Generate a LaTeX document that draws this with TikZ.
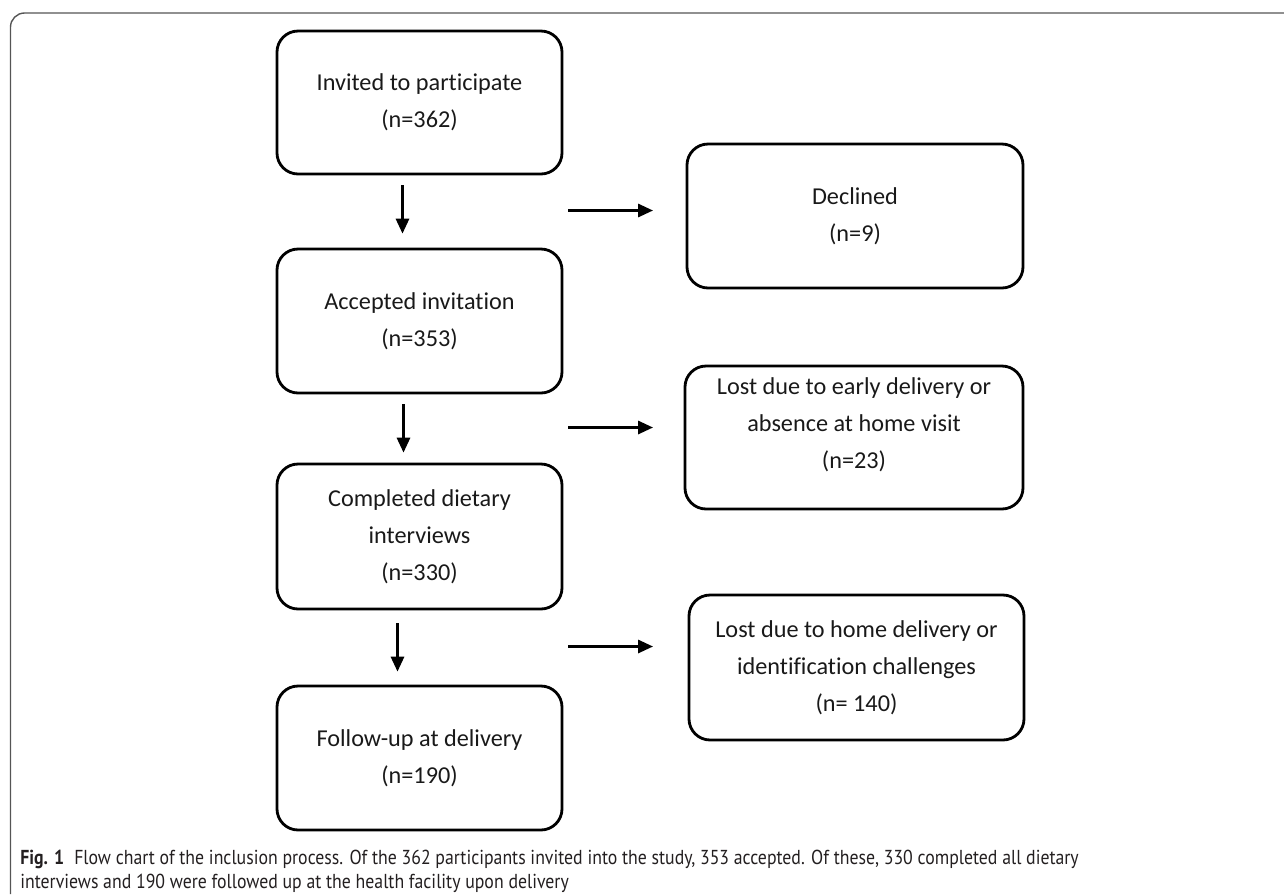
\documentclass[tikz,border=0pt]{standalone}
\usepackage{fontspec}
\setmainfont{Carlito}[Ligatures=NoCommon]
\newfontfamily\capfont{PT Sans}[FakeStretch=0.88]
\usepackage{tikz}
\usetikzlibrary{arrows.meta,positioning,calc}
\definecolor{framegray}{RGB}{85,85,85}
\definecolor{boxtext}{RGB}{25,25,25}
\definecolor{captext}{RGB}{35,31,32}

\begin{document}
\begin{tikzpicture}[x=0.2mm,y=-0.2mm,
  box/.style={draw,line width=1.6pt,rounded corners=12pt,align=center,
    font=\fontsize{13.8}{21}\selectfont,text=boxtext,inner sep=0pt},
  boxlabel/.style={align=center,font=\fontsize{13.8}{21}\selectfont,text=boxtext,inner sep=0pt},
  flow/.style={-{Triangle[length=8.5pt,width=7.5pt]},line width=1.4pt}]
  \useasboundingbox (0,0) rectangle (1284,894);
  % Frame
  \draw[framegray,line width=0.8pt,rounded corners=8pt] (10.5,894) -- (10.5,13) -- (1284,13);
  % Main column
  \node[box,minimum width=57mm,minimum height=28.6mm] (invited) at (419.5,102.5) {Invited to participate\\(n=362)};
  \node[box,minimum width=57mm,minimum height=28.8mm] (accepted) at (419.5,321) {Accepted invitation\\(n=353)};
  \node[box,minimum width=57mm,minimum height=29mm] (completed) at (419.5,536.5) {Completed dietary\\interviews\\(n=330)};
  \node[box,minimum width=57mm,minimum height=28.8mm] (followup) at (419.5,758) {Follow-up at delivery\\(n=190)};
  % Losses
  \node[box,minimum width=67.2mm,minimum height=28.8mm] (declined) at (855,216) {Declined\\(n=9)};
  \node[box,minimum width=67.6mm,minimum height=28.6mm] (lostearly) at (854,437.5) {};
  \node[boxlabel] (lostearlytext) at (854,425) {Lost due to early delivery or\\absence at home visit\\(n=23)};
  \node[box,minimum width=67mm,minimum height=29mm] (losthome) at (856.5,667.5) {Lost due to home delivery or\\identification challenges\\(n= 140)};
  % Arrows
  \foreach \a/\b/\dx/\s/\e/\g in {invited/accepted/-17/10/14/g1,
    accepted/completed/-16/10/10/g2, completed/followup/-22/13/13/g3}{
    \draw[flow] ($(\a.south)+(\dx,\s)$) -- ($(\b.north)+(\dx,-\e)$);
    \coordinate (\g) at ($(\a.south)!0.5!(\b.north)$);
    \draw[flow] ($(\g)+(148.5,-1)$) -- ($(\g)+(233.5,-1)$);
  }
  % Caption
  \node[anchor=north west,align=left,inner sep=0pt,text=captext,
    font=\capfont\fontsize{11.5}{13.6}\selectfont] (caption) at (20,850)
    {\textbf{Fig. 1}\enspace Flow chart of the inclusion process. Of the 362 participants invited into the study, 353 accepted. Of these, 330 completed all dietary\\
     interviews and 190 were followed up at the health facility upon delivery};
\end{tikzpicture}
\end{document}
